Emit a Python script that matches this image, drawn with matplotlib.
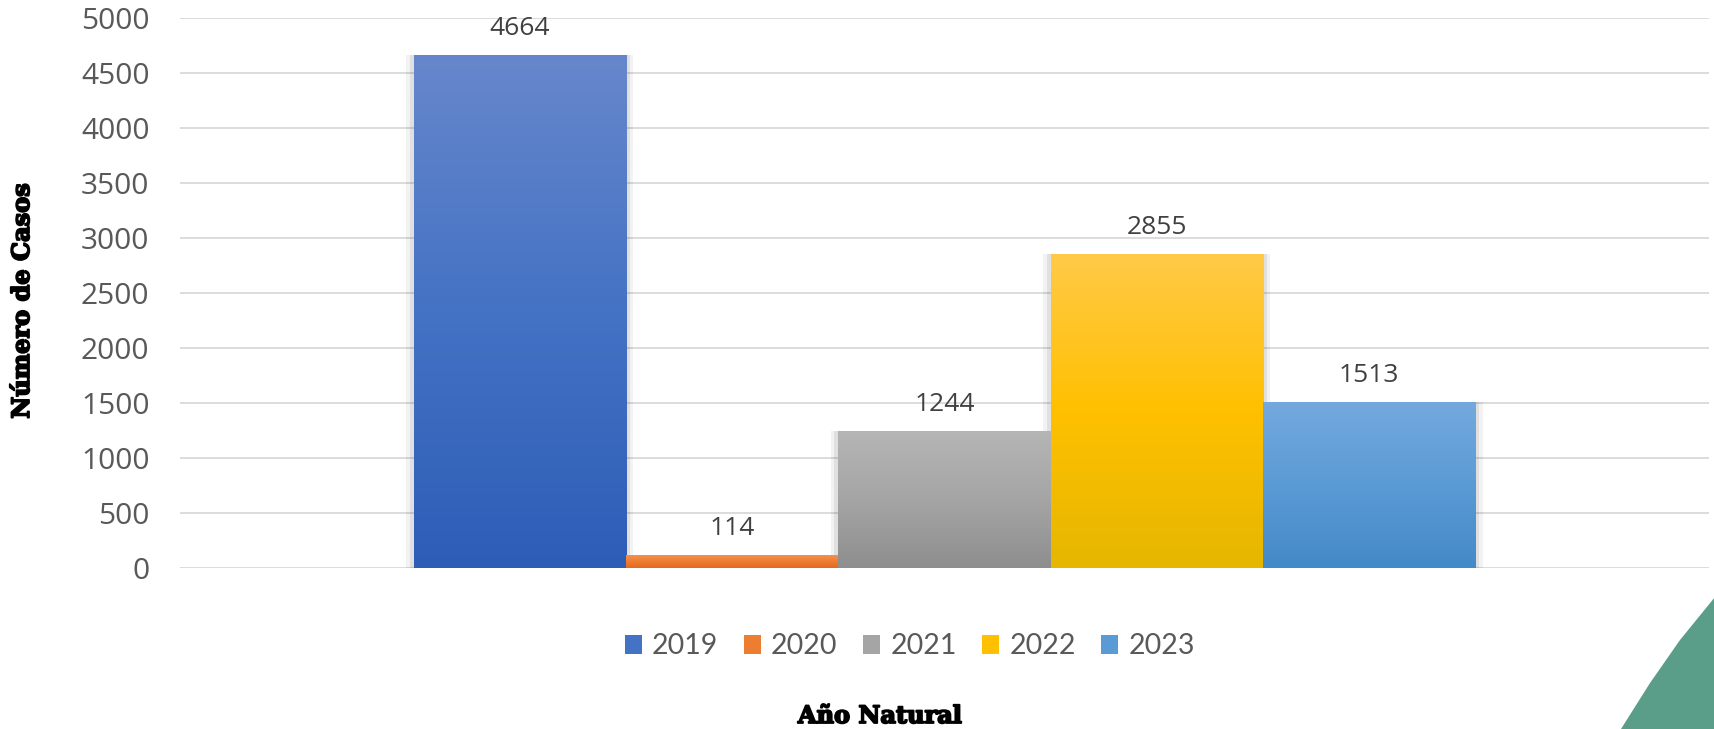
import numpy as np
import matplotlib
matplotlib.use("Agg")
import matplotlib.pyplot as plt
from matplotlib.colors import LinearSegmentedColormap
from matplotlib.patches import Polygon, Patch
import matplotlib.patheffects as pe

# ---- data ----
years = ["2019", "2020", "2021", "2022", "2023"]
cases = [4664, 114, 1244, 2855, 1513]
# gradient stops (top, middle, bottom) per series
grad_colors = [
    ["#6787CC", "#4472C4", "#2D5DB7"],
    ["#F5904F", "#ED7D31", "#E5691F"],
    ["#B5B5B5", "#A5A5A5", "#8E8E8E"],
    ["#FFCA48", "#FFC000", "#E5B700"],
    ["#74A9DE", "#5B9BD5", "#4489C8"],
]
y_ticks = [0, 500, 1000, 1500, 2000, 2500, 3000, 3500, 4000, 4500, 5000]
y_label = "Número de Casos"
x_label = "Año Natural"

W, H = 1715, 729
fig = plt.figure(figsize=(W / 100, H / 100), dpi=100)
fig.patch.set_facecolor("white")
ax = fig.add_axes([180 / W, 1 - 568 / H, (1709 - 180) / W, (568 - 18.3) / H])

positions = np.arange(len(years)) - (len(years) - 1) / 2
bars = ax.bar(positions, cases, width=1.0, color="none", edgecolor="none", zorder=3)

for rect, stops in zip(bars, grad_colors):
    x0, w, h = rect.get_x(), rect.get_width(), rect.get_height()
    # soft shadow
    for k, a in [(0.035, 0.05), (0.018, 0.07)]:
        ax.bar(x0 + w / 2, h, width=w + 2 * k, bottom=0, color="#000000", alpha=a,
               zorder=2, edgecolor="none")
    cmap = LinearSegmentedColormap.from_list("g", stops[::-1])
    grad = np.linspace(0, 1, 256).reshape(-1, 1)
    im = ax.imshow(grad, extent=[x0, x0 + w, 0, h], origin="lower", cmap=cmap,
                   aspect="auto", zorder=4, interpolation="bicubic")
    im.set_clip_path(rect)
    ax.annotate(f"{h:.0f}", xy=(x0 + w / 2, h), xytext=(0, 14.5), textcoords="offset points",
                ha="center", va="baseline", fontsize=19, color="#404040",
                family="Open Sans")

ax.set_xlim(-3.6, 3.6)
ax.set_ylim(0, 5000)
ax.set_yticks(y_ticks)
ax.set_yticklabels([str(t) for t in y_ticks], family="Open Sans", fontsize=21.5, color="#595959")
ax.set_xticks([])
ax.tick_params(axis="y", length=0, pad=22)
ax.grid(axis="y", color="#D9D9D9", linewidth=1.3, zorder=0)
ax.set_axisbelow(True)
for s in ax.spines.values():
    s.set_visible(False)

# legend
handles = [Patch(facecolor=c[1], edgecolor="none") for c in grad_colors]
leg = fig.legend(handles, years, loc="center", bbox_to_anchor=(910 / W, 1 - 646.5 / H),
                 ncol=5, frameon=False, handlelength=0.6, handleheight=0.6,
                 handletextpad=0.35, columnspacing=0.9,
                 prop={"family": "Lato", "size": 20.5})
for t in leg.get_texts():
    t.set_color("#595959")

heavy = [pe.withStroke(linewidth=1.3, foreground="black")]
fig.text(22 / W, 1 - 301 / H, y_label, rotation=90, ha="center", va="center",
         family="DejaVu Serif", weight="bold", fontsize=17.3, color="black",
         path_effects=heavy)
fig.text(880 / W, 1 - 716 / H, x_label, ha="center", va="center",
         family="DejaVu Serif", weight="bold", fontsize=17.3, color="black",
         path_effects=heavy)

# decorative corner shape
pts = [(1715, 597), (1680, 640), (1650, 683), (1621, 729), (1715, 729)]
fig.patches.append(Polygon([(x / W, 1 - y / H) for x, y in pts], closed=True,
                           transform=fig.transFigure, facecolor="#5A9E89",
                           edgecolor="none", zorder=5))

fig.savefig("out.png", dpi=100, facecolor="white")
